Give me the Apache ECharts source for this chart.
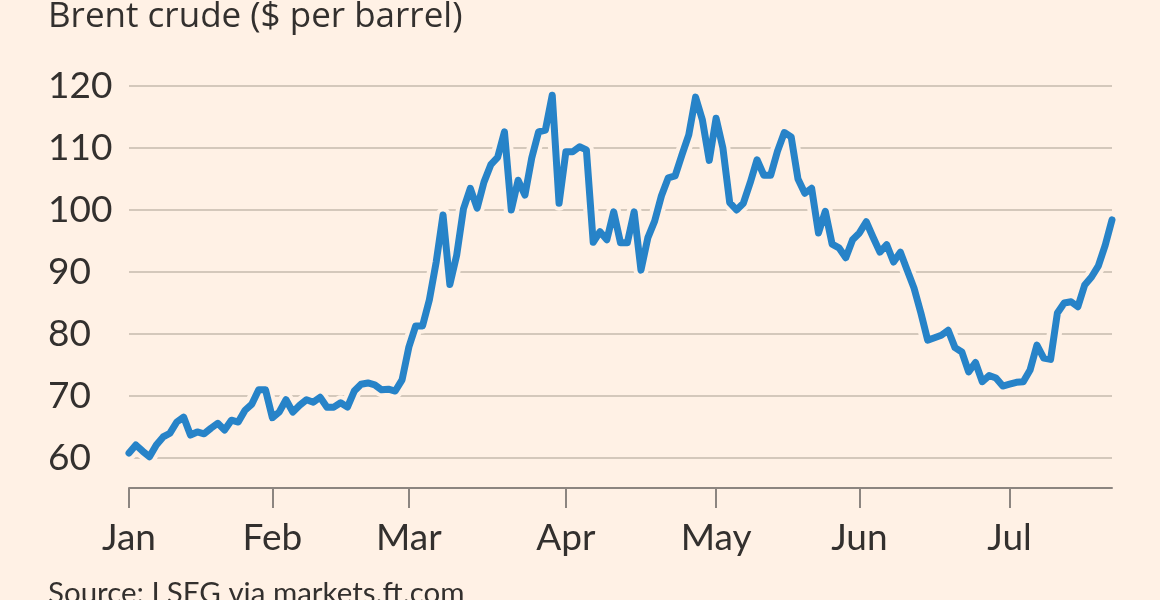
<!DOCTYPE html>
<html>
<head>
<meta charset="utf-8">
<script src="https://cdn.jsdelivr.net/npm/echarts@6/dist/echarts.min.js"></script>
<style>
  html, body { margin: 0; padding: 0; background: #fff1e5; }
  #chart { width: 1160px; height: 600px; }
</style>
</head>
<body>
<div id="chart"></div>
<script>
// Brent crude, daily closes, one array per month
const jan = [60.8, 62.1, 61.1, 60.2, 62.1, 63.4, 64.0, 65.8, 66.6, 63.7, 64.2,
  63.9, 64.8, 65.6, 64.5, 66.1, 65.8, 67.7, 68.7, 71.0, 71.0];
const feb = [66.5, 67.4, 69.4, 67.4, 68.5, 69.4, 69.0, 69.8, 68.2, 68.2, 68.9,
  68.2, 70.8, 71.9, 72.1, 71.8, 71.0, 71.1, 70.8, 72.6];
const mar = [77.9, 81.3, 81.3, 85.5, 91.6, 99.2, 88.0, 92.7, 100.2, 103.5, 100.3,
  104.5, 107.3, 108.5, 112.6, 100.0, 104.8, 102.4, 108.4, 112.6, 112.9, 118.5, 101.1];
const apr = [109.4, 109.4, 110.2, 109.7, 94.8, 96.5, 95.2, 99.7, 94.7, 94.7, 99.7,
  90.3, 95.5, 98.2, 102.3, 105.2, 105.5, 108.9, 112.1, 118.2, 114.5, 108.0];
const may = [114.8, 110.0, 101.2, 100.0, 101.1, 104.4, 108.1, 105.6, 105.6, 109.5,
  112.5, 111.8, 105.0, 102.7, 103.5, 96.3, 99.8, 94.5, 93.9, 92.3, 95.2];
const jun = [96.3, 98.1, 95.6, 93.2, 94.4, 91.6, 93.2, 90.3, 87.4, 83.4, 79.0,
  79.4, 79.8, 80.6, 77.8, 77.1, 73.9, 75.4, 72.3, 73.3, 72.9, 71.6];
const jul = [71.9, 72.2, 72.3, 74.2, 78.2, 76.1, 75.9, 83.4, 85.0, 85.2, 84.4,
  87.9, 89.2, 91.0, 94.3, 98.4];

const months = ['Jan', 'Feb', 'Mar', 'Apr', 'May', 'Jun', 'Jul'];
const yTicks = [60, 70, 80, 90, 100, 110, 120];

const monthly = [jan, feb, mar, apr, may, jun, jul];
const prices = [].concat(...monthly);

// index of first trading day in each month
const monthStarts = [];
let n = 0;
monthly.forEach(m => { monthStarts.push(n); n += m.length; });
const days = prices.map((_, i) => i);

const isMonthStart = i => monthStarts.indexOf(i) !== -1;

const bg = '#fff1e5';
const ink = '#33302e';
const font = 'Lato';

const chart = echarts.init(document.getElementById('chart'));

chart.setOption({
  backgroundColor: bg,
  animation: false,
  title: [
    {
      text: 'Brent crude ($ per barrel)',
      left: 48,
      top: 0,
      padding: 0,
      textStyle: { color: ink, fontFamily: 'Open Sans', fontSize: 35, fontWeight: 'normal' }
    },
    {
      text: 'Source: LSEG via markets.ft.com',
      left: 48,
      top: 578,
      padding: 0,
      textStyle: { color: ink, fontFamily: font, fontSize: 29.5, fontWeight: 'normal' }
    }
  ],
  grid: { left: 129, right: 48, top: 86, bottom: 142 },
  xAxis: {
    type: 'category',
    data: days,
    boundaryGap: false,
    offset: 30,
    axisLine: { lineStyle: { color: '#8c8580', width: 2 } },
    axisTick: {
      interval: i => isMonthStart(i),
      length: 20,
      lineStyle: { color: '#8c8580', width: 2 }
    },
    axisLabel: {
      interval: i => isMonthStart(i),
      formatter: (v, i) => months[monthStarts.indexOf(i)] || '',
      color: ink,
      fontFamily: font,
      fontSize: 37,
      margin: 32
    },
    splitLine: { show: false }
  },
  yAxis: {
    type: 'value',
    min: yTicks[0],
    max: yTicks[yTicks.length - 1],
    interval: 10,
    axisLine: { show: false },
    axisTick: { show: false },
    axisLabel: {
      align: 'left',
      margin: 81,
      color: ink,
      fontFamily: font,
      fontSize: 37
    },
    splitLine: { lineStyle: { color: '#d4c8bb', width: 2 } }
  },
  series: [
    {
      // paper-coloured halo under the line
      type: 'line',
      data: prices,
      symbol: 'none',
      clip: false,
      silent: true,
      lineStyle: { color: bg, width: 15, cap: 'round', join: 'round' },
      z: 2
    },
    {
      name: 'Brent',
      type: 'line',
      data: prices,
      symbol: 'none',
      clip: false,
      lineStyle: { color: '#2783c8', width: 7, cap: 'round', join: 'round' },
      z: 3
    }
  ]
});
</script>
</body>
</html>
